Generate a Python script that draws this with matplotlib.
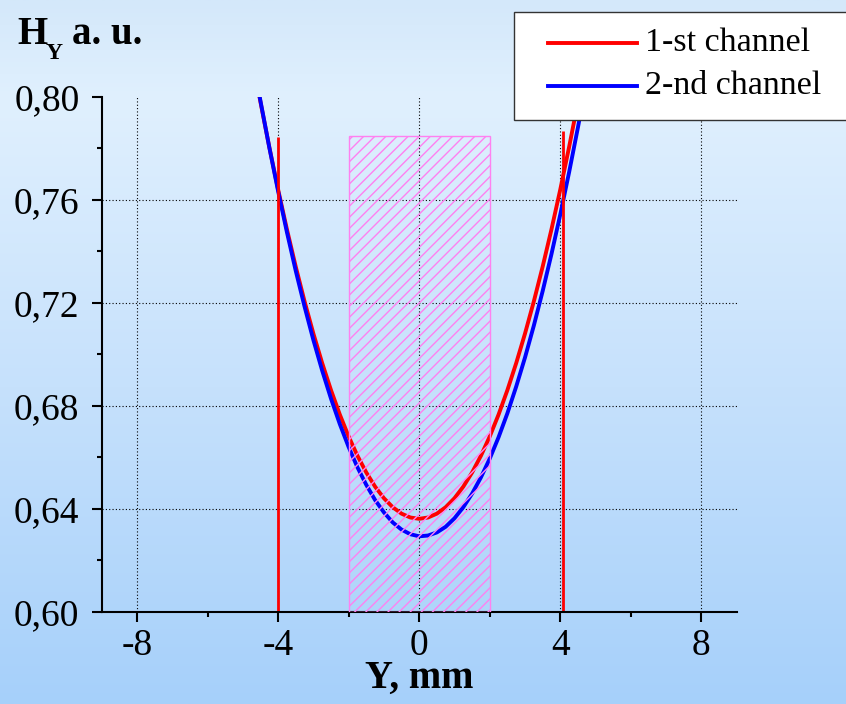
import numpy as np
import matplotlib.pyplot as plt
from matplotlib.patches import Rectangle
from matplotlib.lines import Line2D
from matplotlib.ticker import MultipleLocator, FuncFormatter

plt.rcParams['font.family'] = ['Liberation Serif', 'DejaVu Serif']
plt.rcParams['axes.unicode_minus'] = False
plt.rcParams['hatch.color'] = '#ff80f0'
plt.rcParams['hatch.linewidth'] = 1.0

# positions along Y, mm
y_mm = [-4.75, -4.5, -4.25, -4.0, -3.75, -3.5, -3.25, -3.0, -2.75, -2.5,
        -2.25, -2.0, -1.75, -1.5, -1.25, -1.0, -0.75, -0.5, -0.25, 0.0,
        0.25, 0.5, 0.75, 1.0, 1.25, 1.5, 1.75, 2.0, 2.25, 2.5,
        2.75, 3.0, 3.25, 3.5, 3.75, 4.0, 4.25, 4.5, 4.75]

# channel 1 (red)
ch1 = [0.8166, 0.7981, 0.7806, 0.7641, 0.7486, 0.7341, 0.7206, 0.7081, 0.6966, 0.6861,
       0.6766, 0.6681, 0.6606, 0.6541, 0.6486, 0.6441, 0.6406, 0.6381, 0.6366, 0.6361,
       0.6366, 0.6381, 0.6406, 0.6441, 0.6486, 0.6541, 0.6606, 0.6681, 0.6766, 0.6861,
       0.6966, 0.7081, 0.7206, 0.7341, 0.7486, 0.7641, 0.7806, 0.7981, 0.8166]

# channel 2 (blue)
ch2 = [0.8175, 0.7985, 0.7805, 0.7635, 0.7475, 0.7325, 0.7186, 0.7056, 0.6937, 0.6828,
       0.6729, 0.6640, 0.6561, 0.6493, 0.6434, 0.6386, 0.6347, 0.6319, 0.6301, 0.6293,
       0.6296, 0.6308, 0.6330, 0.6363, 0.6406, 0.6459, 0.6522, 0.6595, 0.6678, 0.6771,
       0.6875, 0.6988, 0.7112, 0.7246, 0.7390, 0.7544, 0.7708, 0.7882, 0.8067]

labels = ['1-st channel', '2-nd channel']
colors = ['#ff0000', '#0000ff']

# red vertical markers
marker_x = [-4.0, 4.07]
marker_top = [0.7843, 0.7869]

# hatched zone
zone_x = [-2.0, 2.0]
zone_top = 0.785

y_min, y_max = 0.60, 0.80

fig = plt.figure(figsize=(8.46, 7.04), dpi=100)
W, H = 846, 704

# background gradient
bg = fig.add_axes([0, 0, 1, 1], zorder=-10)
stops = np.array([[212, 232, 250], [224, 240, 254], [198, 225, 252], [166, 208, 250]]) / 255
pos = [0.0, 0.14, 0.55, 1.0]
t = np.linspace(0, 1, 400)
grad = np.stack([np.interp(t, pos, stops[:, k]) for k in range(3)], axis=1)
bg.imshow(grad[:, None, :], aspect='auto', extent=[0, 1, 1, 0])
bg.axis('off')

ax = fig.add_axes([0.1202, 0.1311, 0.7506, 0.7311])
ax.patch.set_alpha(0)

for yv, lab, c in zip([ch1, ch2], labels, colors):
    ax.plot(y_mm, yv, color=c, linewidth=2.8, label=lab, zorder=2)

ax.vlines(marker_x, y_min, marker_top, color='#ff0000', linewidth=2.0, zorder=2.5)

ax.add_patch(Rectangle((zone_x[0], y_min), zone_x[1] - zone_x[0], zone_top - y_min,
                       facecolor='none', edgecolor='#ff80f0', hatch='///',
                       linewidth=1.0, zorder=3))

ax.set_xlim(-9, 9)
ax.set_ylim(y_min, y_max)
ax.xaxis.set_major_locator(MultipleLocator(4))
ax.xaxis.set_minor_locator(MultipleLocator(2))
ax.yaxis.set_major_locator(MultipleLocator(0.04))
ax.yaxis.set_minor_locator(MultipleLocator(0.02))
ax.yaxis.set_major_formatter(FuncFormatter(lambda v, p: f'{v:.2f}'.replace('.', ',')))
ax.xaxis.set_major_formatter(FuncFormatter(lambda v, p: f'{v:.0f}'))

ax.tick_params(which='major', direction='out', length=7, width=1.5, labelsize=27)
ax.tick_params(axis='y', which='major', pad=9)
ax.tick_params(axis='x', which='major', pad=5)
ax.tick_params(which='minor', direction='out', length=3.6, width=1.5)
for s in ['top', 'right']:
    ax.spines[s].set_visible(False)
for s in ['left', 'bottom']:
    ax.spines[s].set_linewidth(1.5)

ax.set_axisbelow(True)
ax.grid(True, which='major', color='black', linestyle=(0, (1, 2)), linewidth=0.8)
for loc, gl in zip(ax.get_yticks(), ax.yaxis.get_gridlines()):
    if abs(loc - y_max) < 1e-6 or abs(loc - y_min) < 1e-6:
        gl.set_visible(False)

ax.set_xlabel('Y, mm', fontsize=28, fontweight='bold', labelpad=-2)

# axis title H_Y a. u.
fig.text(17 / W, 1 - 44 / H, 'H', fontsize=28, fontweight='bold', va='baseline')
fig.text(46 / W, 1 - 59 / H, 'Y', fontsize=17, fontweight='bold', va='baseline')
fig.text(72 / W, 1 - 44 / H, 'a. u.', fontsize=28, fontweight='bold', va='baseline')

# legend box
fig.add_artist(Rectangle((514 / W, 1 - 120 / H), 0.5, 108 / H, transform=fig.transFigure,
                         facecolor='white', edgecolor='#333333', linewidth=1.0, zorder=5))
for i, (lab, c) in enumerate(zip(labels, colors)):
    yy = 1 - (43 + 43 * i) / H
    fig.add_artist(Line2D([548 / W, 637 / W], [yy, yy], transform=fig.transFigure,
                          color=c, linewidth=2.8, zorder=6))
    fig.text(645 / W, yy, lab, fontsize=24.5, va='center', ha='left', zorder=6)

fig.savefig('out.png', dpi=100)
